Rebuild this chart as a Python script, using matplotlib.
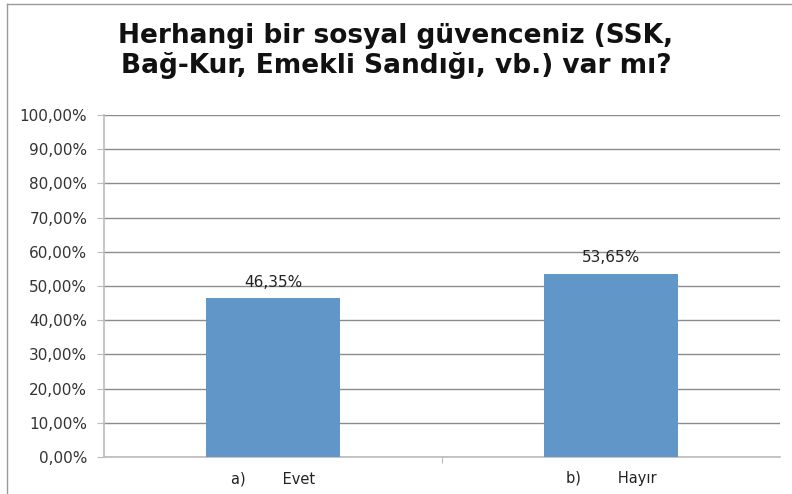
import matplotlib.pyplot as plt
from matplotlib.lines import Line2D
from matplotlib.ticker import FuncFormatter

categories = ["a)        Evet", "b)        Hayır"]
values = [46.35, 53.65]
value_labels = ["46,35%", "53,65%"]
title = "Herhangi bir sosyal güvenceniz (SSK,\nBağ-Kur, Emekli Sandığı, vb.) var mı?"

W, H = 792, 494
fig = plt.figure(figsize=(W / 100, H / 100), dpi=100)
ax = fig.add_axes([104 / W, 1 - 457 / H, (780 - 104) / W, (457 - 115) / H])

x = range(len(categories))
bars = ax.bar(x, values, width=0.397, color="#6096c8", zorder=3)
for b, lab in zip(bars, value_labels):
    ax.text(b.get_x() + b.get_width() / 2, b.get_height() + 2.6, lab,
            ha="center", va="bottom", fontsize=11, color="#222222")

ax.set_xlim(-0.5, 1.5)
ax.set_ylim(0, 100)
ax.set_yticks(range(0, 101, 10))
ax.yaxis.set_major_formatter(FuncFormatter(lambda v, p: "%d,00%%" % v))
ax.set_xticks([0.5])
ax.set_xticklabels([""])
for i, c in enumerate(categories):
    ax.text(i, -4.2, c, ha="center", va="top", fontsize=10.5, color="#222222")

ax.yaxis.grid(True, color="#8c8c8c", linewidth=1, zorder=0)
ax.tick_params(axis="y", length=5, color="#bbbbbb", labelsize=11,
               labelcolor="#333333", pad=7)
ax.tick_params(axis="x", direction="out", length=4, color="#bbbbbb")
ax.spines["top"].set_visible(False)
ax.spines["right"].set_visible(False)
ax.spines["left"].set_color("#bbbbbb")
ax.spines["bottom"].set_color("#bbbbbb")
ax.spines["left"].set_linewidth(1.2)
ax.spines["bottom"].set_linewidth(1.2)

fig.text(0.5, 1 - 51 / H, title, ha="center", va="center", fontsize=19,
         fontweight="bold", linespacing=1.1, color="#111111")

# outer frame (top and left edge)
fig.add_artist(Line2D([7 / W, 1], [1 - 4 / H, 1 - 4 / H], color="#999999", linewidth=1))
fig.add_artist(Line2D([7 / W, 7 / W], [0, 1 - 4 / H], color="#999999", linewidth=1))

fig.savefig("out.png", dpi=100)
